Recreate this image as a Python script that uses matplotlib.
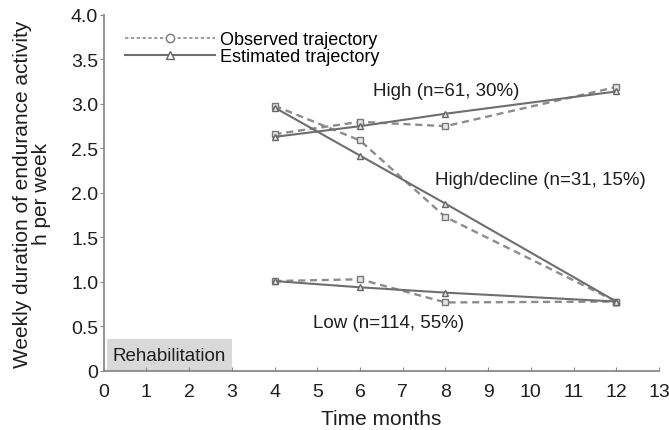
import matplotlib.pyplot as plt
import matplotlib
from matplotlib.lines import Line2D
from matplotlib.patches import Rectangle

matplotlib.rcParams['font.family'] = ['Liberation Sans', 'DejaVu Sans']
matplotlib.rcParams['font.size'] = 13

# time points (months)
months = [4, 6, 8, 12]

# observed trajectories
obs_high = [2.66, 2.80, 2.75, 3.19]
obs_decline = [2.98, 2.59, 1.73, 0.78]
obs_low = [1.01, 1.03, 0.77, 0.78]

# estimated trajectories
est_high = [2.63, 2.75, 2.89, 3.14]
est_decline = [2.96, 2.42, 1.88, 0.78]
est_low = [1.01, 0.94, 0.88, 0.78]

group_labels = ['High (n=61, 30%)', 'High/decline (n=31, 15%)', 'Low (n=114, 55%)']
label_pos = [(6.31, 3.15), (7.76, 2.15), (4.89, 0.54)]

x_ticks = list(range(0, 14))
y_ticks = [0, 0.5, 1.0, 1.5, 2.0, 2.5, 3.0, 3.5, 4.0]
y_tick_labels = ['0', '0.5', '1.0', '1.5', '2.0', '2.5', '3.0', '3.5', '4.0']

obs_color = '#8c8c8c'
est_color = '#6e6e6e'
text_color = '#1e1e1e'

fig = plt.figure(figsize=(6.69, 4.31), dpi=100)
ax = fig.add_axes([0.155, 0.137, 0.830, 0.826])

for ys in [obs_high, obs_decline, obs_low]:
    ax.plot(months, ys, linestyle=(0, (3, 2)), linewidth=1.7, color=obs_color,
            marker='s', markersize=5, markerfacecolor='#e6e6e6',
            markeredgecolor='#777777', markeredgewidth=1.0, zorder=3)

for ys in [est_high, est_decline, est_low]:
    ax.plot(months, ys, linestyle='-', linewidth=1.5, color=est_color,
            marker='^', markersize=5, markerfacecolor='#e6e6e6',
            markeredgecolor='#666666', markeredgewidth=1.0, zorder=3)

for txt, (tx, ty) in zip(group_labels, label_pos):
    ax.text(tx, ty, txt, fontsize=13.5, va='center', ha='left', color=text_color)

# rehabilitation box
ax.add_patch(Rectangle((0.08, 0), 2.92, 0.36, facecolor='#d9d9d9', edgecolor='none', zorder=1))
ax.text(0.2, 0.17, 'Rehabilitation', fontsize=13.5, va='center', ha='left',
        color=text_color, zorder=2)

handles = [
    Line2D([0], [0], linestyle=(0, (2, 1.5)), linewidth=1.2, color=obs_color, marker='o',
           markersize=6, markerfacecolor='white', markeredgecolor='#777777'),
    Line2D([0], [0], linestyle='-', linewidth=1.5, color=est_color, marker='^',
           markersize=6, markerfacecolor='white', markeredgecolor='#666666'),
]
fig.legend(handles, ['Observed trajectory', 'Estimated trajectory'], loc='upper left',
           bbox_to_anchor=(0.187, 0.925), frameon=False, handlelength=5.0, handletextpad=0.28,
           labelspacing=0.0, borderaxespad=0.0, borderpad=0.0, fontsize=13)

ax.set_xlim(0, 13)
ax.set_ylim(0, 4.0)
ax.set_xticks(x_ticks)
ax.set_yticks(y_ticks)
ax.set_yticklabels(y_tick_labels)
ax.tick_params(axis='x', direction='in', length=3, color='#888888', labelsize=14,
               labelcolor=text_color, pad=9)
ax.tick_params(axis='y', direction='out', length=3, color='#888888', labelsize=14,
               labelcolor=text_color, pad=1)

for side in ['top', 'right']:
    ax.spines[side].set_visible(False)
for side in ['left', 'bottom']:
    ax.spines[side].set_color('#8a8a8a')
    ax.spines[side].set_linewidth(1.3)

ax.set_xlabel('Time months', fontsize=15, labelpad=6, color=text_color)
ax.set_ylabel('Weekly duration of endurance activity\nh per week', fontsize=15, labelpad=14,
              linespacing=1.0, color=text_color)

fig.savefig('out.png', dpi=100)
